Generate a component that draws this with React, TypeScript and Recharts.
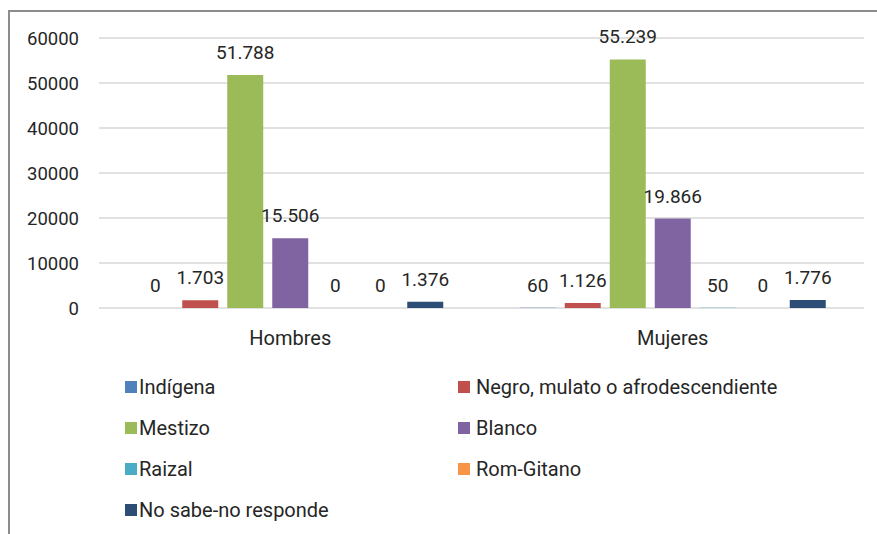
import React from "react";
import { Bar, BarChart, CartesianGrid, LabelList, Legend, XAxis, YAxis } from "recharts";

const grupos = ["Hombres", "Mujeres"];
const yTicks = [0, 10000, 20000, 30000, 40000, 50000, 60000];

const indigena = [0, 60];
const negro = [1703, 1126];
const mestizo = [51788, 55239];
const blanco = [15506, 19866];
const raizal = [0, 50];
const romGitano = [0, 0];
const noSabe = [1376, 1776];

const series = [
  { key: "indigena", name: "Indígena", color: "#4F81BD", values: indigena },
  { key: "negro", name: "Negro, mulato o afrodescendiente", color: "#C0504D", values: negro },
  { key: "mestizo", name: "Mestizo", color: "#9BBB59", values: mestizo },
  { key: "blanco", name: "Blanco", color: "#8064A2", values: blanco },
  { key: "raizal", name: "Raizal", color: "#4BACC6", values: raizal },
  { key: "rom", name: "Rom-Gitano", color: "#F79646", values: romGitano },
  { key: "nosabe", name: "No sabe-no responde", color: "#2C4D75", values: noSabe },
];

const data = grupos.map((g, i) => {
  const row: Record<string, string | number> = { grupo: g };
  series.forEach((s) => {
    row[s.key] = s.values[i];
  });
  return row;
});

const FONT = "Roboto, sans-serif";
const TEXT = "#262626";

const fmt = (v: unknown) => String(v).replace(/\B(?=(\d{3})+(?!\d))/g, ".");

function LegendGrid() {
  return (
    <div
      style={{
        display: "grid",
        gridTemplateColumns: "333px 340px",
        fontFamily: FONT,
        fontSize: 20,
        color: TEXT,
      }}
    >
      {series.map((s, i) => (
        <div key={s.key} style={{ display: "flex", alignItems: "center", height: 41 }}>
          <span
            style={{
              width: 12,
              height: 12,
              background: s.color,
              marginRight: i % 2 === 0 ? 2 : 6,
              display: "inline-block",
              flex: "none",
            }}
          />
          <span style={{ whiteSpace: "nowrap" }}>{s.name}</span>
        </div>
      ))}
    </div>
  );
}

export default function App() {
  return (
    <div style={{ position: "absolute", left: 0, top: 0, width: 877, height: 534, background: "#fff" }}>
      <div style={{ position: "absolute", left: 8, top: 10, width: 869, height: 2, background: "#8c8c8c" }} />
      <div style={{ position: "absolute", left: 8, top: 10, width: 2, height: 524, background: "#8c8c8c" }} />
      <BarChart
        width={877}
        height={534}
        data={data}
        margin={{ top: 38, right: 13, left: 0, bottom: 196 }}
        barCategoryGap="10%"
        barGap={9}
        style={{ position: "absolute", left: 0, top: 0 }}
      >
        <CartesianGrid vertical={false} stroke="#c4c4c4" strokeWidth={1.2} />
        <XAxis
          dataKey="grupo"
          axisLine={false}
          tickLine={false}
          tickMargin={17}
          height={30}
          tick={{ fontSize: 20, fill: TEXT, fontFamily: FONT }}
        />
        <YAxis
          domain={[0, 60000]}
          ticks={yTicks}
          axisLine={false}
          tickLine={false}
          tickMargin={14}
          width={99}
          interval={0}
          tick={{ fontSize: 18.5, fill: TEXT, fontFamily: FONT }}
        />
        <Legend
          layout="horizontal"
          verticalAlign="middle"
          align="center"
          wrapperStyle={{ top: 366, left: 125, width: 690 }}
          content={() => <LegendGrid />}
        />
        {series.map((s) => (
          <Bar
            key={s.key}
            dataKey={s.key}
            name={s.name}
            fill={s.color}
            minPointSize={0.1}
            isAnimationActive={false}
          >
            <LabelList
              dataKey={s.key}
              position="top"
              offset={16}
              formatter={fmt}
              style={{ fontSize: 19, fill: TEXT, fontFamily: FONT }}
            />
          </Bar>
        ))}
      </BarChart>
    </div>
  );
}
